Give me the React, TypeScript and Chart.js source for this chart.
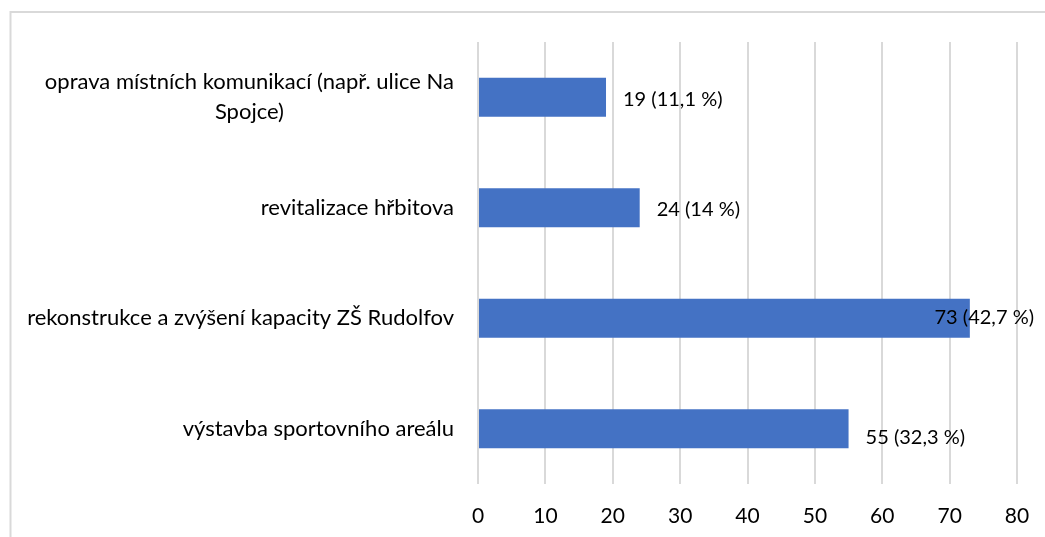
import React, { useEffect, useRef } from "react";
import { Chart, registerables } from "chart.js";

Chart.register(...registerables);

const categories: string[][] = [
  ["oprava místních komunikací (např. ulice Na", "Spojce)"],
  ["revitalizace hřbitova"],
  ["rekonstrukce a zvýšení kapacity ZŠ Rudolfov"],
  ["výstavba sportovního areálu"],
];
const counts: number[] = [19, 24, 73, 55];
const percentLabels: string[] = ["11,1 %", "14 %", "42,7 %", "32,3 %"];
const xTicks = { min: 0, max: 80, step: 10 };

const FONT = "Lato, 'Noto Sans', sans-serif";
const BAR_COLOR = "#4472C4";
const GRID_COLOR = "#d9d9d9";

const frameAndLabels = {
  id: "frameAndLabels",
  beforeDraw(chart: any) {
    const ctx = chart.ctx;
    ctx.save();
    ctx.fillStyle = "#ffffff";
    ctx.fillRect(0, 0, chart.width, chart.height);
    ctx.strokeStyle = GRID_COLOR;
    ctx.lineWidth = 2;
    ctx.beginPath();
    ctx.moveTo(10.5, chart.height);
    ctx.lineTo(10.5, 12);
    ctx.lineTo(chart.width, 12);
    ctx.stroke();
    ctx.restore();
  },
  afterDatasetsDraw(chart: any) {
    const ctx = chart.ctx;
    const yScale = chart.scales.y;
    const area = chart.chartArea;
    ctx.save();
    // category labels
    ctx.font = `22px ${FONT}`;
    ctx.fillStyle = "#000000";
    ctx.textAlign = "center";
    ctx.textBaseline = "middle";
    const right = area.left - 24;
    const lineH = 30;
    categories.forEach((lines, i) => {
      const cy = yScale.getPixelForValue(i);
      const maxW = Math.max(...lines.map((l) => ctx.measureText(l).width));
      const cx = right - maxW / 2;
      const startY = cy - ((lines.length - 1) * lineH) / 2;
      lines.forEach((l, k) => ctx.fillText(l, cx, startY + k * lineH));
    });
    // data labels
    ctx.font = `20px ${FONT}`;
    ctx.textAlign = "left";
    const meta = chart.getDatasetMeta(0);
    const nudgeY = [2, 2, -1, 9];
    meta.data.forEach((bar: any, i: number) => {
      const text = `${counts[i]} (${percentLabels[i]})`;
      const w = ctx.measureText(text).width;
      let x = bar.x + 17;
      const maxRight = chart.width - 11;
      if (x + w > maxRight) x = maxRight - w;
      ctx.fillText(text, x, bar.y + nudgeY[i]);
    });
    ctx.restore();
  },
};

export default function App() {
  const ref = useRef<HTMLCanvasElement>(null);
  useEffect(() => {
    if (!ref.current) return;
    const chart = new Chart(ref.current, {
      type: "bar",
      data: {
        labels: categories.map((c) => c.join(" ")),
        datasets: [
          {
            data: counts,
            backgroundColor: BAR_COLOR,
            borderWidth: 0,
            categoryPercentage: 1,
            barPercentage: 0.353,
          },
        ],
      },
      options: {
        indexAxis: "y",
        responsive: false,
        animation: false,
        devicePixelRatio: 1,
        layout: { padding: { top: 42, right: 28, bottom: 0, left: 0 } },
        plugins: {
          legend: { display: false },
          tooltip: { enabled: false },
          title: { display: false },
        },
        scales: {
          x: {
            min: xTicks.min,
            max: xTicks.max,
            ticks: {
              stepSize: xTicks.step,
              color: "#000000",
              font: { family: FONT, size: 21 },
              padding: 20,
              maxRotation: 0,
            },
            grid: { color: GRID_COLOR, lineWidth: 2, drawTicks: false },
            border: { display: false },
            afterFit: (s: any) => {
              s.height = 53;
              s.paddingLeft = 0;
              s.paddingRight = 0;
            },
          },
          y: {
            ticks: { display: false },
            grid: { display: false },
            border: { display: false },
            afterFit: (s: any) => {
              s.width = 478;
            },
          },
        },
      },
      plugins: [frameAndLabels],
    });
    return () => chart.destroy();
  }, []);
  return (
    <div style={{ position: "fixed", left: 0, top: 0, width: 1045, height: 537, background: "#fff" }}>
      <canvas ref={ref} width={1045} height={537} style={{ display: "block" }} />
    </div>
  );
}
